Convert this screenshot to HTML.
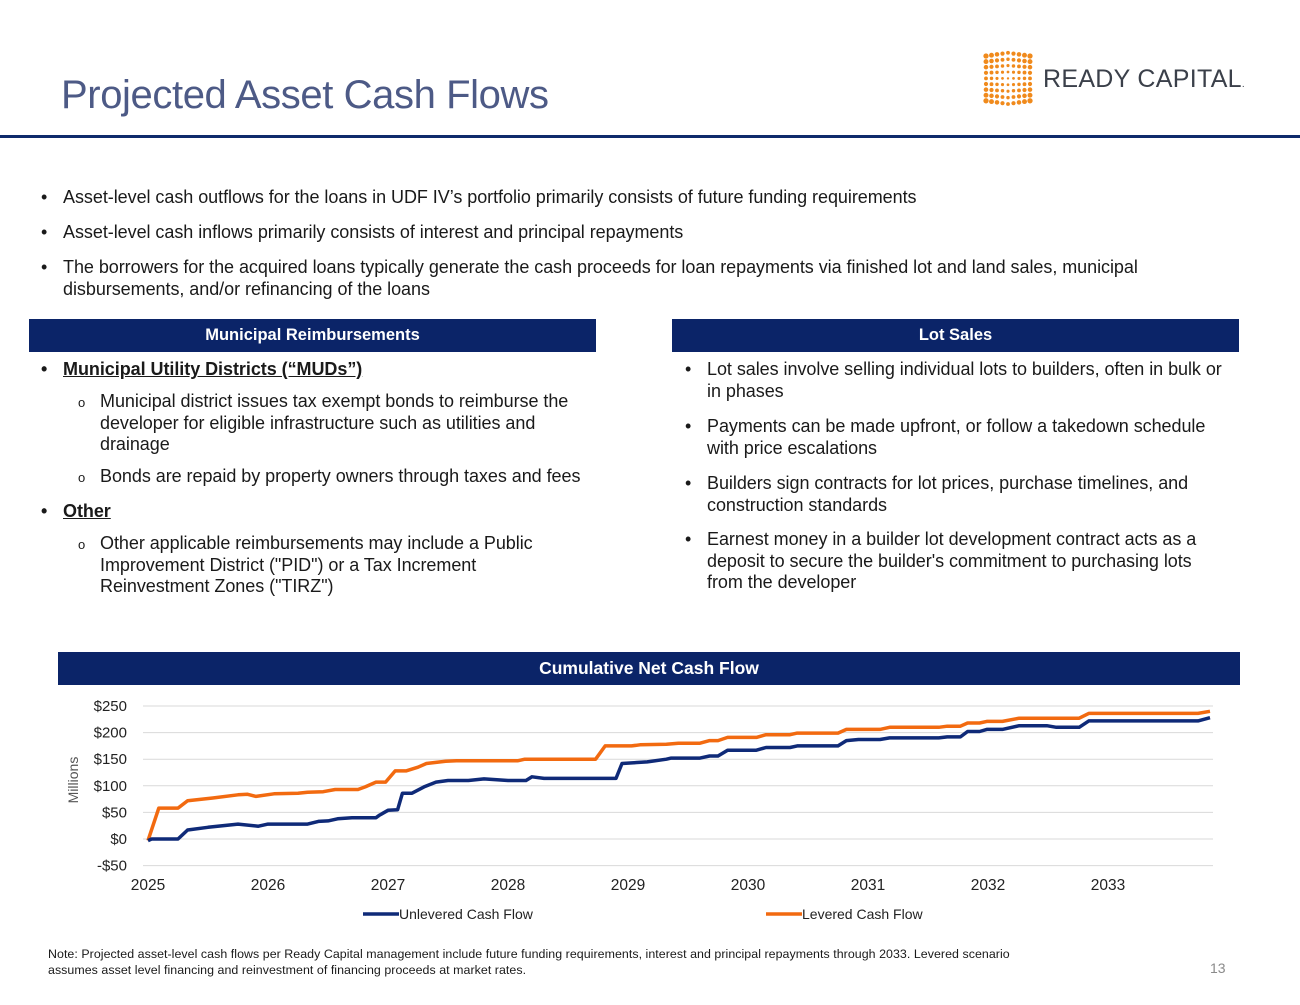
<!DOCTYPE html>
<html><head><meta charset="utf-8">
<style>
*{margin:0;padding:0;box-sizing:border-box}
body{width:1300px;height:1005px;position:relative;background:#fff;font-family:"Liberation Sans",sans-serif;color:#1a1a1a;overflow:hidden}
.abs{position:absolute}
.t{font-size:18px;line-height:21.5px;letter-spacing:-0.05px}
.hdr{background:#0b2468;color:#fff;font-weight:bold;font-size:16.5px;text-align:center;line-height:33px;height:33px}
.b{position:absolute}
.b:before{content:"•";position:absolute;left:-22px}
.o:before{content:"o";position:absolute;left:-22px;font-size:13px;top:1px}
u{text-decoration:underline}
</style></head><body>
<div class="abs" style="left:61px;top:73px;font-size:40px;color:#4d5a86;letter-spacing:-0.4px">Projected Asset Cash Flows</div>
<div class="abs" style="left:0;top:135px;width:1300px;height:3px;background:#0f2a6b"></div>
<div class="abs" style="left:978px;top:50px;width:280px;height:58px">
<svg width="60" height="58">
<g fill="#f08a1c" id="dots"></g></svg>
<div class="abs" style="left:65px;top:15px;font-size:25px;color:#3b404a;letter-spacing:0.3px">READY CAPITAL<span style="font-size:10px">.</span></div>
</div>

<div class="t b" style="left:63px;top:187px">Asset-level cash outflows for the loans in UDF IV’s portfolio primarily consists of future funding requirements</div>
<div class="t b" style="left:63px;top:222px">Asset-level cash inflows primarily consists of interest and principal repayments</div>
<div class="t b" style="left:63px;top:257px;width:1100px">The borrowers for the acquired loans typically generate the cash proceeds for loan repayments via finished lot and land sales, municipal disbursements, and/or refinancing of the loans</div>

<div class="abs hdr" style="left:29px;top:319px;width:567px">Municipal Reimbursements</div>
<div class="abs hdr" style="left:672px;top:319px;width:567px">Lot Sales</div>

<div class="t b" style="left:63px;top:359px;font-weight:bold"><u>Municipal Utility Districts (“MUDs”)</u></div>
<div class="t b o" style="left:100px;top:391px;width:485px">Municipal district issues tax exempt bonds to reimburse the developer for eligible infrastructure such as utilities and drainage</div>
<div class="t b o" style="left:100px;top:466px;width:500px">Bonds are repaid by property owners through taxes and fees</div>
<div class="t b" style="left:63px;top:501px;font-weight:bold"><u>Other</u></div>
<div class="t b o" style="left:100px;top:533px;width:450px">Other applicable reimbursements may include a Public Improvement District ("PID") or a Tax Increment Reinvestment Zones ("TIRZ")</div>

<div class="t b" style="left:707px;top:359px;width:525px">Lot sales involve selling individual lots to builders, often in bulk or in phases</div>
<div class="t b" style="left:707px;top:416px;width:510px">Payments can be made upfront, or follow a takedown schedule with price escalations</div>
<div class="t b" style="left:707px;top:473px;width:500px">Builders sign contracts for lot prices, purchase timelines, and construction standards</div>
<div class="t b" style="left:707px;top:529px;width:500px">Earnest money in a builder lot development contract acts as a deposit to secure the builder's commitment to purchasing lots from the developer</div>

<div class="abs hdr" style="left:58px;top:652px;width:1182px;font-size:17.5px">Cumulative Net Cash Flow</div>

<svg class="abs" id="chart" style="left:0;top:0" width="1300" height="1005" font-family="Liberation Sans, sans-serif"></svg>

<div class="abs" style="left:48px;top:946px;font-size:12.4px;line-height:16px;width:1005px;letter-spacing:0.05px;color:#1a1a1a">Note: Projected asset-level cash flows per Ready Capital management include future funding requirements, interest and principal repayments through 2033. Levered scenario assumes asset level financing and reinvestment of financing proceeds at market rates.</div>
<div class="abs" style="left:1210px;top:960px;font-size:14px;color:#8a8a8a">13</div>

<script>
(function(){
  var g=document.getElementById('dots');
  for(var c=0;c<9;c++){for(var r=0;r<9;r++){
    var d=Math.abs(c-4)/4, dy=Math.abs(r-4)/4;
    var x=8+c*5.5, y=6+r*5.6 + (r-4)*0.8*(1-d) ;
    var rad=1.2+1.2*(d*0.6+dy*0.6);
    var el=document.createElementNS('http://www.w3.org/2000/svg','circle');
    el.setAttribute('cx',x);el.setAttribute('cy',y);el.setAttribute('r',rad);
    g.appendChild(el);
  }}
})();

var yTicks=[-50,0,50,100,150,200,250];
var yTickLabels=['-$50','$0','$50','$100','$150','$200','$250'];
var xTicks=[2025,2026,2027,2028,2029,2030,2031,2032,2033];
var seriesNames=['Unlevered Cash Flow','Levered Cash Flow'];
var unleveredT=[2025.0,2025.03,2025.25,2025.33,2025.5,2025.75,2025.92,2026.0,2026.33,2026.42,2026.5,2026.58,2026.7,2026.9,2026.93,2027.0,2027.08,2027.12,2027.2,2027.3,2027.4,2027.5,2027.67,2027.8,2028.0,2028.15,2028.2,2028.3,2028.9,2028.95,2029.16,2029.32,2029.36,2029.6,2029.68,2029.75,2029.83,2030.07,2030.15,2030.35,2030.41,2030.75,2030.82,2030.92,2031.1,2031.18,2031.59,2031.66,2031.77,2031.83,2031.93,2031.99,2032.12,2032.26,2032.49,2032.57,2032.76,2032.84,2033.75,2033.85];
var unleveredV=[-3,0,0,17,22,28,24,28,28,33,34,38,40,40,45,54,55,86,86,98,107,110,110,113,110,110,117,114,114,142,145,150,152,152,156,156,167,167,172,172,175,175,185,187,187,190,190,192,192,202,202,206,206,213,213,210,210,222,222,228];
var leveredT=[2025.0,2025.09,2025.25,2025.33,2025.54,2025.75,2025.83,2025.9,2026.05,2026.25,2026.33,2026.46,2026.56,2026.75,2026.81,2026.9,2026.98,2027.06,2027.15,2027.25,2027.32,2027.48,2027.57,2028.08,2028.14,2028.73,2028.81,2029.03,2029.1,2029.32,2029.42,2029.6,2029.68,2029.75,2029.83,2030.07,2030.15,2030.35,2030.41,2030.75,2030.82,2031.1,2031.18,2031.59,2031.66,2031.77,2031.83,2031.93,2031.99,2032.12,2032.26,2032.76,2032.84,2033.75,2033.85];
var leveredV=[-3,58,58,72,77,83,84,80,85,86,88,89,93,93,98,107,107,128,128,135,142,146,147,147,150,150,175,175,177,178,180,180,185,185,191,191,196,196,199,199,206,206,210,210,212,212,218,218,221,221,227,227,236,236,240];

var NS='http://www.w3.org/2000/svg';
var svg=document.getElementById('chart');
function xS(t){return 148+(t-2025)*120;}
function yS(v){return 839-v*(133/250);}
function mk(tag,attrs){var e=document.createElementNS(NS,tag);for(var k in attrs)e.setAttribute(k,attrs[k]);svg.appendChild(e);return e;}

yTicks.forEach(function(v,i){
  var gl=mk('line',{x1:143,x2:1213,y1:yS(v),y2:yS(v),stroke:'#d9d9d9','stroke-width':1});
  
  
  var tx=mk('text',{x:127,y:yS(v)+5,'text-anchor':'end','font-size':15,fill:'#222'});
  tx.textContent=yTickLabels[i];
  
  
});
xTicks.forEach(function(t){
  var tx=mk('text',{x:xS(t),y:890,'text-anchor':'middle','font-size':15.5,fill:'#222'});
  tx.textContent=t;
  
  
});
var yt=mk('text',{x:0,y:0,'font-size':14,fill:'#555','text-anchor':'middle',transform:'translate(78,780) rotate(-90)'});
yt.textContent='Millions';



function drawLine(T,V,color,name){
  var d=T.map(function(t,i){return (i?'L':'M')+xS(t).toFixed(1)+','+yS(V[i]).toFixed(1);}).join(' ');
  var p=mk('path',{d:d,fill:'none',stroke:color,'stroke-width':3.5,'stroke-linejoin':'round'});
  
  
}
drawLine(leveredT,leveredV,'#f26a10','levered-line');
drawLine(unleveredT,unleveredV,'#0f2a78','unlevered-line');

var legX=[363,766], legC=['#0f2a78','#f26a10'];
seriesNames.forEach(function(n,i){
  var l=mk('line',{x1:legX[i],x2:legX[i]+36,y1:914,y2:914,stroke:legC[i],'stroke-width':3.5});
  
  
  var tx=mk('text',{x:legX[i]+36,y:919,'font-size':14,fill:'#222'});
  tx.textContent=n;
  
  
});
</script>
</body></html>
